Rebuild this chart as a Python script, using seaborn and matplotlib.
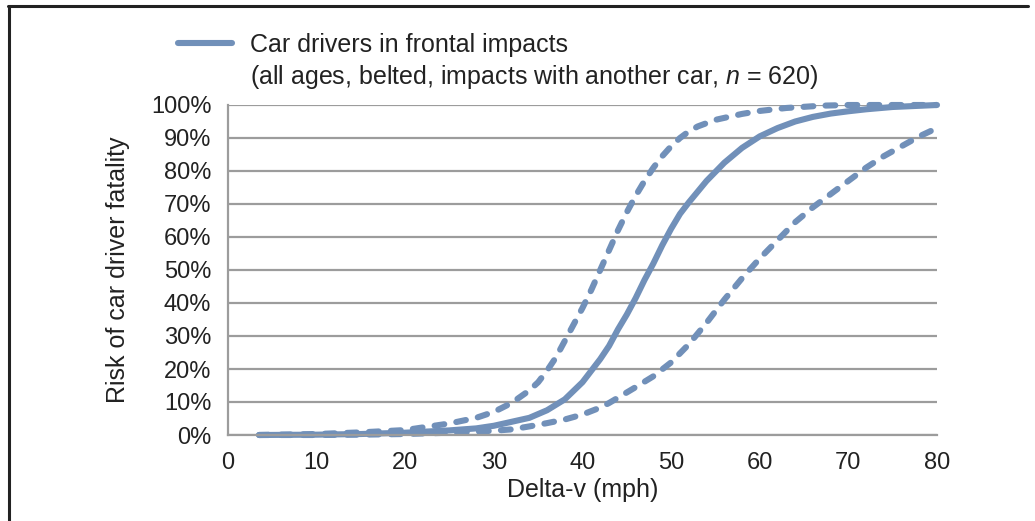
import numpy as np
import pandas as pd
import matplotlib
matplotlib.use("Agg")
import matplotlib.pyplot as plt
from matplotlib.lines import Line2D
from matplotlib.ticker import FuncFormatter
import seaborn as sns

# delta-v (mph) and risk of fatality (%)
median_x = [3.5, 10, 15, 20, 25, 28, 30, 32, 34, 36, 38, 40, 41, 42, 43, 44, 45, 46,
            47, 48, 49, 50, 51, 52, 54, 56, 58, 60, 62, 64, 66, 68, 70, 72, 75, 80]
median_y = [0, 0.1, 0.3, 0.7, 1.4, 2, 2.8, 4, 5.2, 7.5, 10.8, 16, 19.5, 23, 27, 32, 36.5, 41.5,
            47, 52, 57.5, 62.5, 67, 70.5, 77, 82.5, 87, 90.5, 93, 95, 96.4, 97.4, 98.1, 98.7, 99.4, 100]

upper_x = [3.5, 10, 15, 20, 25, 28, 30, 32, 34, 35, 36, 37, 38, 39, 40, 41, 42, 43,
           44, 45, 46, 47, 48, 49, 50, 51, 52, 53, 55, 58, 60, 63, 67, 70, 80]
upper_y = [0, 0.3, 0.8, 1.5, 3.5, 5.2, 7, 9.7, 13.5, 16, 19.5, 23.5, 28.5, 33.5, 38.5, 44, 50, 56,
           62, 67.5, 72.5, 77, 81, 84.5, 87.5, 90, 92, 93.5, 95.5, 97.3, 98.2, 99.1, 99.8, 100, 100]

lower_x = [3.5, 10, 15, 20, 25, 28, 30, 32, 34, 36, 38, 40, 42, 43, 44, 46, 48, 50,
           52, 54, 56, 58, 60, 62, 64, 66, 68, 70, 72, 74, 76, 78, 80]
lower_y = [0, 0, 0.1, 0.3, 0.7, 1, 1.3, 1.7, 2.6, 3.6, 4.7, 6.2, 8.3, 9.7, 11.3, 14.5, 17.8, 22,
           27.5, 34, 41, 47.5, 53.5, 59, 64.5, 69, 73, 77, 81, 84.5, 87.5, 90.5, 93]

x_ticks = [0, 10, 20, 30, 40, 50, 60, 70, 80]
y_ticks = [0, 10, 20, 30, 40, 50, 60, 70, 80, 90, 100]

legend_line1 = "Car drivers in frontal impacts"
legend_line2 = "(all ages, belted, impacts with another car, $n$ = 620)"

sns.set_style("white")
plt.rcParams["font.family"] = ["Liberation Sans", "DejaVu Sans"]
plt.rcParams["mathtext.fontset"] = "custom"
plt.rcParams["mathtext.rm"] = "Liberation Sans"
plt.rcParams["mathtext.it"] = "Liberation Sans:italic"

BLUE = "#7190b9"
GRID = "#9c9c9c"
TEXT = "#222222"

fig = plt.figure(figsize=(10.35, 5.21), dpi=100)
ax = fig.add_axes([228 / 1035, 1 - 435 / 521, (937 - 228) / 1035, (435 - 105) / 521])

df_med = pd.DataFrame({"dv": median_x, "risk": median_y})
df_up = pd.DataFrame({"dv": upper_x, "risk": upper_y})
df_lo = pd.DataFrame({"dv": lower_x, "risk": lower_y})

dash_kw = dict(color=BLUE, lw=4.4, dashes=(1.6, 2.0), dash_capstyle="round",
               dash_joinstyle="round", clip_on=False)
sns.lineplot(data=df_up, x="dv", y="risk", ax=ax, **dash_kw)
sns.lineplot(data=df_lo, x="dv", y="risk", ax=ax, **dash_kw)
sns.lineplot(data=df_med, x="dv", y="risk", ax=ax, color=BLUE, lw=4.4,
             solid_capstyle="butt", solid_joinstyle="round", clip_on=False)

ax.set_xlim(0, 80)
ax.set_ylim(0, 100)
ax.set_xticks(x_ticks)
ax.set_yticks(y_ticks)
ax.yaxis.set_major_formatter(FuncFormatter(lambda v, p: f"{v:.0f}%"))
ax.grid(axis="y", color=GRID, lw=1.6)
ax.grid(axis="x", visible=False)
ax.set_axisbelow(True)

for s in ["top", "right"]:
    ax.spines[s].set_visible(False)
for s in ["left", "bottom"]:
    ax.spines[s].set_color(GRID)
    ax.spines[s].set_linewidth(1.6)

ax.tick_params(axis="y", direction="out", length=8, width=1.6, color=GRID,
               labelsize=17, labelcolor=TEXT, pad=4)
ax.tick_params(axis="x", direction="out", length=6, width=1.6, color=GRID,
               labelsize=17, labelcolor=TEXT, pad=6)

ax.set_xlabel("Delta-v (mph)", fontsize=18, color=TEXT, labelpad=3)
ax.set_ylabel("Risk of car driver fatality", fontsize=18, color=TEXT, labelpad=15)

handles = [Line2D([], [], color=BLUE, lw=4.4), Line2D([], [], color="none")]
leg = fig.legend(handles, [legend_line1, legend_line2], loc="upper left",
                 bbox_to_anchor=(178 / 1035, 1 - 33 / 521), frameon=False,
                 fontsize=18, borderpad=0, borderaxespad=0, handlelength=2.16,
                 handletextpad=0.72, labelspacing=0.25)
for t in leg.get_texts():
    t.set_color(TEXT)

# cropped frame of the original figure (top and left edges)
fig.add_artist(Line2D([8 / 1035, 1028 / 1035], [1 - 5.5 / 521, 1 - 5.5 / 521],
                      color="#222222", lw=2.2, transform=fig.transFigure))
fig.add_artist(Line2D([9 / 1035, 9 / 1035], [0, 1 - 5.5 / 521],
                      color="#222222", lw=2.2, transform=fig.transFigure))

fig.savefig("out.png", dpi=100)
